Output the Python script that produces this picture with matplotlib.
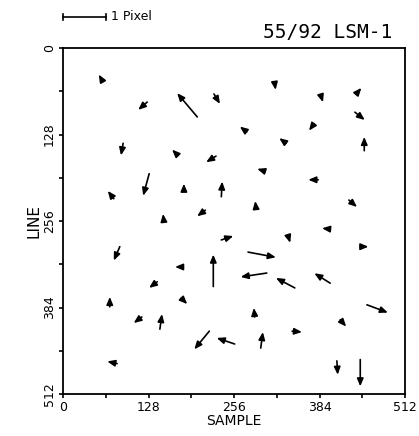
import matplotlib
matplotlib.use("Agg")
import matplotlib.pyplot as plt

# Vector field: tail position (sample, line) and displacement (in pixels)
sample = [58, 126, 201, 226, 317, 386, 439, 437, 451, 275, 334, 376, 90, 171, 229, 301, 382,
          428, 76, 129, 181, 237, 289, 213, 151, 85, 178, 141, 237, 337, 277, 225, 305, 347,
          400, 400, 445, 455, 415, 343, 287, 296, 257, 219, 177, 70, 118, 145, 81, 410, 445]
line = [47, 80, 102, 68, 53, 70, 68, 95, 152, 124, 141, 112, 141, 158, 160, 182, 195,
        225, 223, 186, 211, 220, 238, 240, 257, 294, 324, 346, 284, 278, 302, 353, 333, 355,
        348, 268, 294, 380, 402, 419, 398, 444, 438, 419, 370, 383, 398, 416, 467, 463, 461]
d_sample = [-0.07, -0.21, -0.47, 0.14, 0.02, 0.05, 0.12, 0.23, 0.0, -0.16, -0.16, -0.12, -0.05,
            -0.12, -0.23, -0.16, -0.23, 0.19, -0.14, -0.14, 0.0, 0.02, -0.02, -0.19, -0.02,
            -0.14, -0.16, -0.19, 0.28, 0.05, 0.65, 0.0, -0.61, -0.44, -0.37, -0.19, 0.19, 0.49,
            0.14, 0.23, -0.02, 0.05, -0.42, -0.35, 0.14, 0.0, -0.19, 0.05, -0.23, 0.02, 0.0]
d_line = [-0.12, 0.18, -0.55, 0.23, 0.14, 0.16, -0.14, 0.18, -0.32, -0.12, -0.12, 0.16, 0.28,
          -0.12, 0.14, -0.05, 0.0, 0.16, -0.18, 0.51, -0.16, -0.35, -0.18, 0.14, -0.18,
          0.32, 0.0, 0.14, -0.09, 0.16, 0.12, -0.74, 0.09, -0.23, -0.23, -0.02, 0.0, 0.18,
          0.16, 0.02, -0.21, -0.37, -0.14, 0.42, 0.14, -0.23, 0.14, -0.35, -0.05, 0.32, 0.62]

SCALE = 64  # data units per 1 pixel of displacement
ticks_major = [0, 128, 256, 384, 512]
tick_labels = ["0", "128", "256", "384", "512"]
title = "55/92 LSM-1"

fig = plt.figure(figsize=(4.19, 4.36), dpi=100)
ax = fig.add_axes([0.1504, 0.0963, 0.8162, 0.7936])
ax.set_xlim(0, 512)
ax.set_ylim(512, 0)

for s, l, du, dv in zip(sample, line, d_sample, d_line):
    ax.annotate("", xy=(s + du * SCALE, l + dv * SCALE), xytext=(s, l),
                arrowprops=dict(arrowstyle="-|>,head_length=0.45,head_width=0.19",
                                mutation_scale=10, color="black", lw=1.2,
                                shrinkA=0, shrinkB=0))

ax.set_xticks(ticks_major)
ax.set_xticklabels(tick_labels, fontsize=9)
ax.set_yticks(ticks_major)
ax.set_yticklabels(tick_labels, fontsize=9, rotation=90, va="center")
ax.set_xticks([64, 192, 320, 448], minor=True)
ax.set_yticks([64, 192, 320, 448], minor=True)
ax.tick_params(which="both", direction="out", length=3, width=1.2, pad=2)
for sp in ax.spines.values():
    sp.set_linewidth(1.3)

ax.set_xlabel("SAMPLE", fontsize=10, labelpad=0)
ax.set_ylabel("LINE", fontsize=11, labelpad=1)

# scale bar
yb = -46
ax.plot([0, SCALE], [yb, yb], color="black", lw=1.2, clip_on=False)
ax.plot([0, 0], [yb - 5, yb + 5], color="black", lw=1.2, clip_on=False)
ax.plot([SCALE, SCALE], [yb - 5, yb + 5], color="black", lw=1.2, clip_on=False)
ax.text(SCALE + 8, yb, "1 Pixel", fontsize=9, va="center", ha="left", clip_on=False)

fig.text(392 / 419, 1 - 33 / 436, title, fontsize=14, family="DejaVu Sans Mono",
         ha="right", va="center")

fig.savefig("out.png", dpi=100)
